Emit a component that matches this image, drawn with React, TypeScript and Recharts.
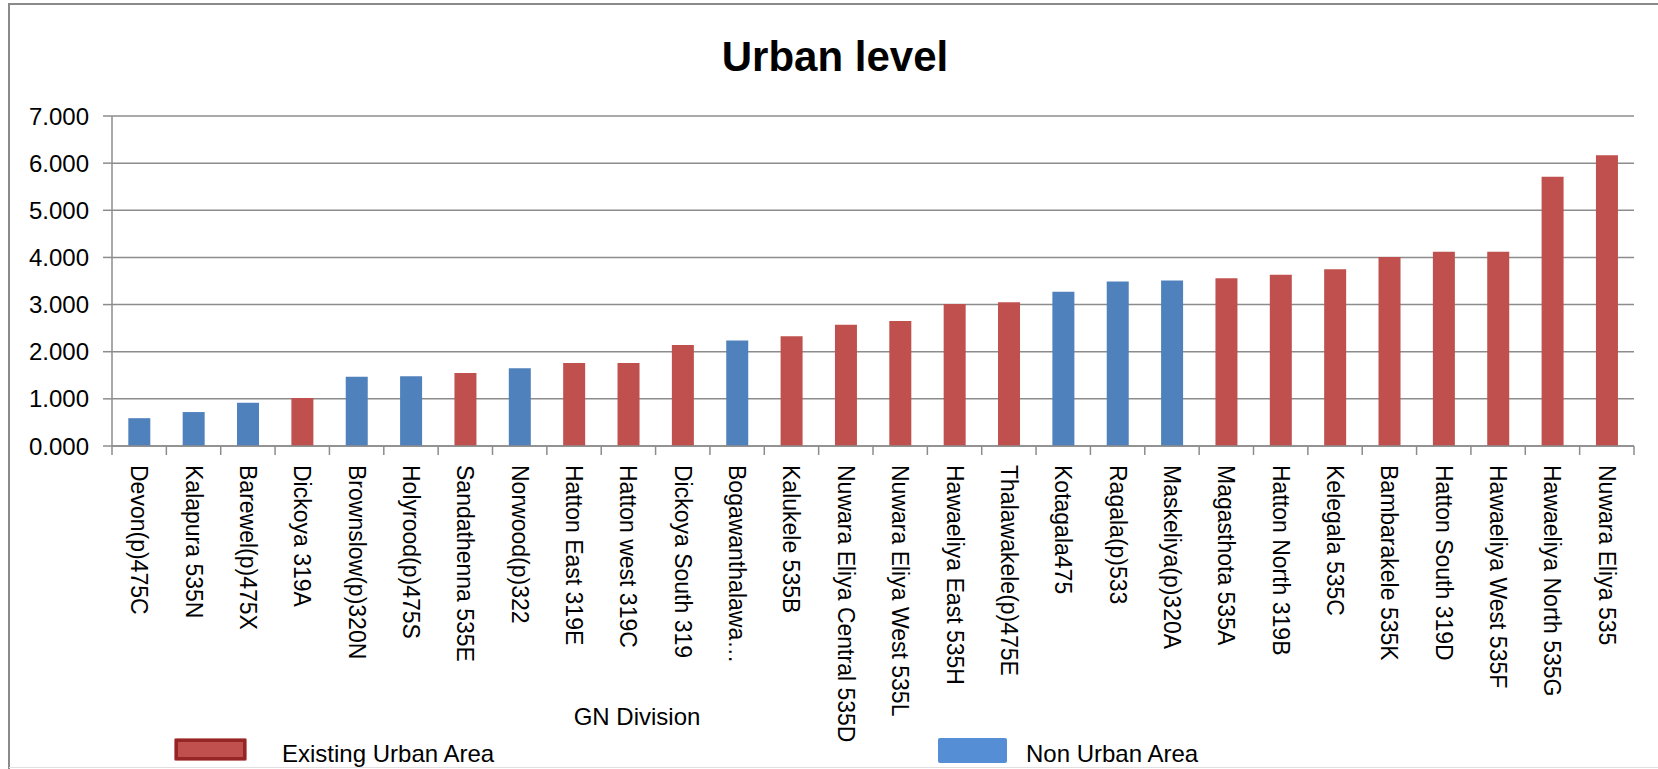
import { BarChart, Bar, XAxis, YAxis, CartesianGrid, Cell } from 'recharts';

const categories = [
  'Devon(p)475C', 'Kalapura 535N', 'Barewel(p)475X', 'Dickoya 319A', 'Brownslow(p)320N',
  'Holyrood(p)475S', 'Sandathenna 535E', 'Norwood(p)322', 'Hatton East 319E', 'Hatton west 319C',
  'Dickoya South 319', 'Bogawanthalawa…', 'Kalukele 535B', 'Nuwara Eliya Central 535D',
  'Nuwara Eliya West 535L', 'Hawaeliya East 535H', 'Thalawakele(p)475E', 'Kotagala475',
  'Ragala(p)533', 'Maskeliya(p)320A', 'Magasthota 535A', 'Hatton North 319B', 'Kelegala 535C',
  'Bambarakele 535K', 'Hatton South 319D', 'Hawaeliya West 535F', 'Hawaeliya North 535G',
  'Nuwara Eliya 535',
];

const urbanLevel = [
  0.59, 0.72, 0.92, 1.02, 1.47, 1.48, 1.55, 1.65, 1.76, 1.76,
  2.14, 2.24, 2.33, 2.57, 2.65, 3.01, 3.05, 3.27, 3.49, 3.51,
  3.56, 3.63, 3.75, 4.01, 4.12, 4.12, 5.71, 6.17,
];

// U = existing urban area, N = non urban area
const areaType = [
  'N', 'N', 'N', 'U', 'N', 'N', 'U', 'N', 'U', 'U',
  'U', 'N', 'U', 'U', 'U', 'U', 'U', 'N', 'N', 'N',
  'U', 'U', 'U', 'U', 'U', 'U', 'U', 'U',
];

const yTicks = [0, 1, 2, 3, 4, 5, 6, 7];

const data = categories.map((name, i) => ({ name, value: urbanLevel[i], type: areaType[i] }));

const RED = '#c0504d';
const BLUE = '#4f81bd';
const GRID = '#8c8c8c';
const FONT = '"Liberation Sans", Arial, sans-serif';

function CategoryTick(props: any) {
  const { x, y, payload, index, width } = props;
  const half = payload?.offset || (width ? width / categories.length / 2 : 27);
  const axisY = y - 19;
  return (
    <g>
      <line x1={x - half} x2={x - half} y1={axisY} y2={axisY + 9} stroke={GRID} strokeWidth={1.5} />
      {index === categories.length - 1 && (
        <line x1={x + half} x2={x + half} y1={axisY} y2={axisY + 9} stroke={GRID} strokeWidth={1.5} />
      )}
      <text
        transform={`translate(${x},${y}) rotate(90)`}
        textAnchor="start"
        dominantBaseline="central"
        fontSize={23}
        fontFamily={FONT}
        fill="#000"
      >
        {payload.value}
      </text>
    </g>
  );
}

export default function App() {
  return (
    <div style={{ position: 'absolute', left: 0, top: 0, width: 1658, height: 769, background: '#fff' }}>
      <BarChart
        width={1658}
        height={769}
        data={data}
        margin={{ top: 116, right: 24, left: 0, bottom: 0 }}
        barCategoryGap="30%"
      >
        <CartesianGrid vertical={false} stroke={GRID} strokeWidth={1.5} />
        <XAxis
          dataKey="name"
          interval={0}
          height={323}
          tickSize={9}
          tickMargin={10}
          tickLine={false}
          axisLine={{ stroke: GRID, strokeWidth: 1.5 }}
          tick={<CategoryTick />}
        />
        <YAxis
          width={112}
          domain={[0, 7]}
          ticks={yTicks}
          tickSize={9}
          tickMargin={14}
          tickFormatter={(v: number) => v.toFixed(3)}
          tick={{ fontSize: 24, fill: '#000', fontFamily: FONT }}
          axisLine={{ stroke: GRID, strokeWidth: 1.5 }}
          tickLine={{ stroke: GRID, strokeWidth: 1.5 }}
        />
        <Bar dataKey="value" isAnimationActive={false}>
          {data.map((d, i) => (
            <Cell key={i} fill={d.type === 'U' ? RED : BLUE} />
          ))}
        </Bar>
      </BarChart>
      <svg
        width={1658}
        height={769}
        style={{ position: 'absolute', left: 0, top: 0, pointerEvents: 'none' }}
        fontFamily={FONT}
      >
        <path d="M 9 769 V 4 H 1658" fill="none" stroke="#8a8a8a" strokeWidth={2} />
        <line x1={9} x2={1658} y1={767.5} y2={767.5} stroke="#e0e0e0" strokeWidth={1} />
        <text x={835} y={71} textAnchor="middle" fontSize={42} fontWeight="bold" fill="#000">
          Urban level
        </text>
        <text x={637} y={725} textAnchor="middle" fontSize={24} fill="#000">
          GN Division
        </text>
        <rect x={174} y={738} width={73} height={23} rx={2} fill="#c47a78" />
        <rect x={176.5} y={740.5} width={68} height={18} fill={RED} stroke="#962626" strokeWidth={3} />
        <text x={282} y={762} fontSize={24} fill="#000">Existing Urban Area</text>
        <rect x={938} y={738} width={69} height={25} rx={2} fill="#558ed5" />
        <text x={1026} y={762} fontSize={24} fill="#000">Non Urban Area</text>
      </svg>
    </div>
  );
}
